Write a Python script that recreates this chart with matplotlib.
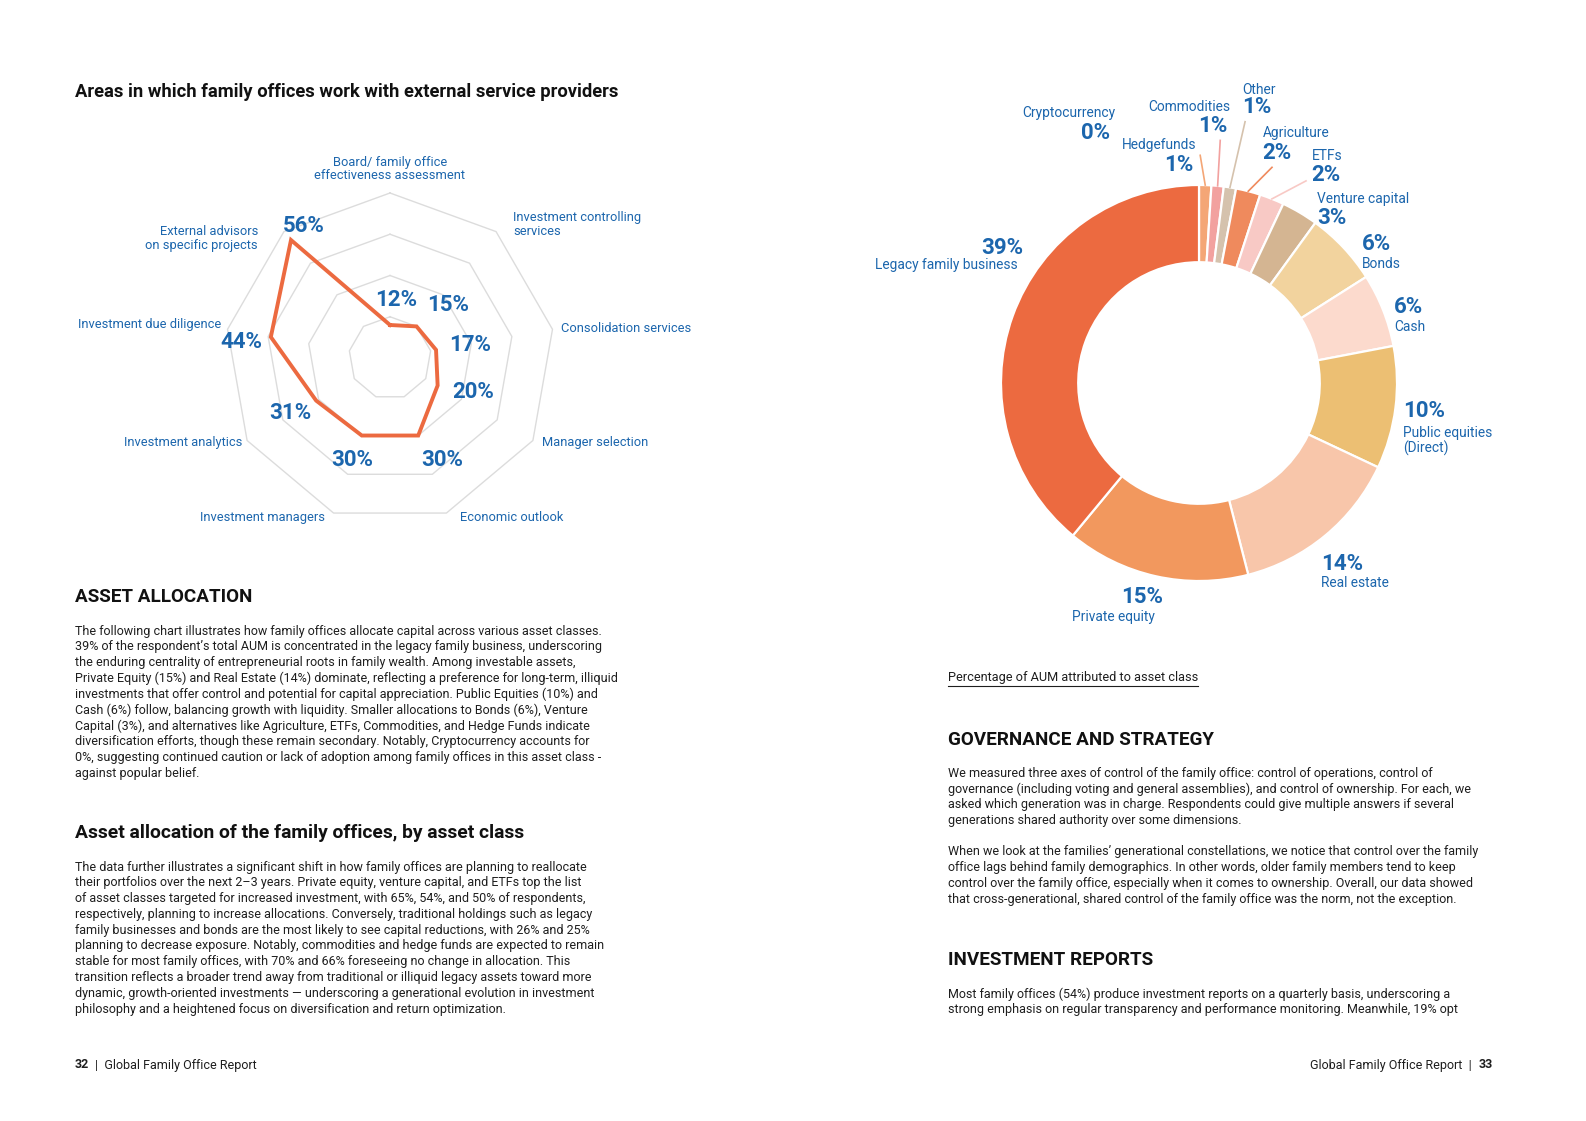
import numpy as np
import matplotlib
matplotlib.use("Agg")
import matplotlib.pyplot as plt
from matplotlib.lines import Line2D

plt.rcParams['font.family'] = ['Roboto', 'DejaVu Sans']

W, H = 1586, 1121
BLUE = '#1c66ad'
ORANGE = '#ec6a40'
GRID = '#dcdcdc'
INK = '#1e1e1e'
HEAD = '#111111'

# radar: share of family offices using external providers (clockwise from top)
radar_labels = ["Board/ family office\neffectiveness assessment",
                "Investment controlling\nservices",
                "Consolidation services",
                "Manager selection",
                "Economic outlook",
                "Investment managers",
                "Investment analytics",
                "Investment due diligence",
                "External advisors\non specific projects"]
radar_values = [12, 15, 17, 20, 30, 30, 31, 44, 56]
radar_rings = [15, 30, 45, 60]

# donut: percentage of AUM per asset class (clockwise from 12 o'clock)
asset_classes = ["Hedgefunds", "Commodities", "Other", "Agriculture", "ETFs",
                 "Venture capital", "Bonds", "Cash", "Public equities\n(Direct)",
                 "Real estate", "Private equity", "Legacy family business"]
asset_shares = [1, 1, 1, 2, 2, 3, 6, 6, 10, 14, 15, 39]
crypto_label = "Cryptocurrency"
crypto_share = 0

asset_colors = ['#f4a676', '#f2a19f', '#d5c2ad', '#ef8a5d', '#f8c9c5', '#d4b592',
                '#f2d39e', '#fcdacd', '#ecbf73', '#f8c6aa', '#f2985e', '#ec6a40']


def fx(x):
    return x / W


def fy(y):
    return 1 - y / H


def axes_px(fig, cx, cy, half):
    ax = fig.add_axes([fx(cx - half), fy(cy + half), 2 * half / W, 2 * half / H])
    ax.set_axis_off()
    return ax


def add_text(fig, x, y, s, size=9, weight='normal', color=INK, ha='left', va='center', **kw):
    return fig.text(fx(x), fy(y), s, fontsize=size, fontweight=weight, color=color,
                    ha=ha, va=va, **kw)


def add_paragraph(fig, x, y0, lines, step=15.8):
    for i, line in enumerate(lines):
        add_text(fig, x, y0 + i * step, line, size=9)


def draw_radar(fig):
    # center at (390, 358) px, ring 60 -> 165 px
    half = 200
    lim = half / 165 * 60
    ax = axes_px(fig, 390, 358, half)
    ax.set_xlim(-lim, lim)
    ax.set_ylim(-lim, lim)
    ax.set_aspect('equal')

    n = len(radar_values)
    ang = np.arange(n) * 2 * np.pi / n
    ang_c = np.append(ang, ang[0])
    for ring in radar_rings:
        ax.plot(ring * np.sin(ang_c), ring * np.cos(ang_c), color=GRID, lw=1.0, zorder=1)

    vals = np.array(radar_values + radar_values[:1], dtype=float)
    x = vals * np.sin(ang_c)
    y = vals * np.cos(ang_c)
    ax.plot(x, y, color=ORANGE, lw=2.8, solid_joinstyle='miter', zorder=3)

    # value labels, offsets in pixels from the data point
    val_off = [(6, 25), (32, 21), (34, 5), (36, -7), (24, -24),
               (-10, -24), (-26, -12), (-29, -5), (13, 14)]
    for v, a, (dx, dy) in zip(radar_values, ang, val_off):
        ax.annotate(f"{v}%", (v * np.sin(a), v * np.cos(a)), xytext=(dx, dy),
                    textcoords='offset pixels', ha='center', va='center',
                    fontsize=16, fontweight='bold', color=BLUE, annotation_clip=False)

    # axis labels, offsets from the outer vertex
    lab_off = [(0, 24, 'center'), (17, 7, 'left'), (9, 1, 'left'), (9, -2, 'left'),
               (14, -4, 'left'), (-9, -4, 'right'), (-5, -2, 'right'),
               (-6, 5, 'right'), (-26, -7, 'right')]
    top = radar_rings[-1]
    for lab, a, (dx, dy, ha) in zip(radar_labels, ang, lab_off):
        ax.annotate(lab, (top * np.sin(a), top * np.cos(a)), xytext=(dx, dy),
                    textcoords='offset pixels', ha=ha, va='center', multialignment=ha,
                    fontsize=9.3, color=BLUE, linespacing=1.05, annotation_clip=False)


def draw_donut(fig):
    # center at (1199, 383) px, outer radius 198 px
    half = 230
    R = 198
    ax = axes_px(fig, 1199, 383, half)
    ax.pie(asset_shares, colors=asset_colors, startangle=90, counterclock=False,
           radius=1.0, wedgeprops=dict(width=0.39, edgecolor='white', linewidth=1.6))
    lim = half / R
    ax.set_xlim(-lim, lim)
    ax.set_ylim(-lim, lim)
    ax.set_aspect('equal')

    # leader lines for the thin wedges: end point (angle deg clockwise from top, radius)
    leaders = {"Hedgefunds": (0.3, 1.15), "Commodities": (5.0, 1.23), "Other": (10.0, 1.34),
               "Agriculture": (18.7, 1.15), "ETFs": (27.9, 1.155)}
    cum = np.cumsum([0] + asset_shares) / np.sum(asset_shares) * 360
    for i, name in enumerate(asset_classes):
        if name in leaders:
            mid = np.deg2rad((cum[i] + cum[i + 1]) / 2)
            ea, er = leaders[name]
            ea = np.deg2rad(ea)
            ax.plot([np.sin(mid), er * np.sin(ea)], [np.cos(mid), er * np.cos(ea)],
                    color=asset_colors[i], lw=1.2, clip_on=False)

    # label positions in px: (value xy, name xy, ha)
    pos = {
        "Hedgefunds": ((1193, 165), (1196, 145), 'right'),
        "Commodities": ((1227, 126), (1230, 107), 'right'),
        "Other": ((1242, 107), (1242, 90), 'left'),
        "Agriculture": ((1262, 153), (1263, 133), 'left'),
        "ETFs": ((1311, 175), (1312, 156), 'left'),
        "Venture capital": ((1317, 218), (1317, 199), 'left'),
        "Bonds": ((1362, 244), (1362, 264), 'left'),
        "Cash": ((1394, 307), (1394, 327), 'left'),
        "Public equities\n(Direct)": ((1403, 411), (1403, 441), 'left'),
        "Real estate": ((1321, 564), (1321, 583), 'left'),
        "Private equity": ((1163, 597), (1155, 617), 'right'),
        "Legacy family business": ((1023, 248), (1018, 265), 'right'),
    }
    for name, share in zip(asset_classes, asset_shares):
        (vx, vy), (nx, ny), ha = pos[name]
        add_text(fig, vx, vy, f"{share}%", size=16, weight='bold', color=BLUE, ha=ha)
        add_text(fig, nx, ny, name, size=9.9, color=BLUE, ha=ha, multialignment=ha,
                 linespacing=1.0)
    add_text(fig, 1110, 133, f"{crypto_share}%", size=16, weight='bold', color=BLUE, ha='right')
    add_text(fig, 1115, 113, crypto_label, size=9.9, color=BLUE, ha='right')


para_asset = [
    "The following chart illustrates how family offices allocate capital across various asset classes.",
    "39% of the respondent’s total AUM is concentrated in the legacy family business, underscoring",
    "the enduring centrality of entrepreneurial roots in family wealth. Among investable assets,",
    "Private Equity (15%) and Real Estate (14%) dominate, reflecting a preference for long-term, illiquid",
    "investments that offer control and potential for capital appreciation. Public Equities (10%) and",
    "Cash (6%) follow, balancing growth with liquidity. Smaller allocations to Bonds (6%), Venture",
    "Capital (3%), and alternatives like Agriculture, ETFs, Commodities, and Hedge Funds indicate",
    "diversification efforts, though these remain secondary. Notably, Cryptocurrency accounts for",
    "0%, suggesting continued caution or lack of adoption among family offices in this asset class -",
    "against popular belief.",
]
para_class = [
    "The data further illustrates a significant shift in how family offices are planning to reallocate",
    "their portfolios over the next 2–3 years. Private equity, venture capital, and ETFs top the list",
    "of asset classes targeted for increased investment, with 65%, 54%, and 50% of respondents,",
    "respectively, planning to increase allocations. Conversely, traditional holdings such as legacy",
    "family businesses and bonds are the most likely to see capital reductions, with 26% and 25%",
    "planning to decrease exposure. Notably, commodities and hedge funds are expected to remain",
    "stable for most family offices, with 70% and 66% foreseeing no change in allocation. This",
    "transition reflects a broader trend away from traditional or illiquid legacy assets toward more",
    "dynamic, growth-oriented investments — underscoring a generational evolution in investment",
    "philosophy and a heightened focus on diversification and return optimization.",
]
para_gov1 = [
    "We measured three axes of control of the family office: control of operations, control of",
    "governance (including voting and general assemblies), and control of ownership. For each, we",
    "asked which generation was in charge. Respondents could give multiple answers if several",
    "generations shared authority over some dimensions.",
]
para_gov2 = [
    "When we look at the families’ generational constellations, we notice that control over the family",
    "office lags behind family demographics. In other words, older family members tend to keep",
    "control over the family office, especially when it comes to ownership. Overall, our data showed",
    "that cross-generational, shared control of the family office was the norm, not the exception.",
]
para_reports = [
    "Most family offices (54%) produce investment reports on a quarterly basis, underscoring a",
    "strong emphasis on regular transparency and performance monitoring. Meanwhile, 19% opt",
]


def main():
    fig = plt.figure(figsize=(W / 100, H / 100), dpi=100, facecolor='white')

    add_text(fig, 75, 92, "Areas in which family offices work with external service providers",
             size=13.2, weight='bold', color=HEAD)
    draw_radar(fig)
    draw_donut(fig)

    add_text(fig, 75, 597, "ASSET ALLOCATION", size=13.6, weight='bold', color=HEAD)
    add_paragraph(fig, 75, 631, para_asset)
    add_text(fig, 75, 833, "Asset allocation of the family offices, by asset class",
             size=13.9, weight='bold', color=HEAD)
    add_paragraph(fig, 75, 867, para_class)

    cap = add_text(fig, 948, 678, "Percentage of AUM attributed to asset class", size=9.2)
    fig.canvas.draw()
    bb = cap.get_window_extent(fig.canvas.get_renderer())
    fig.add_artist(Line2D([bb.x0 / W, bb.x1 / W], [fy(686), fy(686)],
                          transform=fig.transFigure, color=INK, lw=0.8))

    add_text(fig, 948, 740, "GOVERNANCE AND STRATEGY", size=13.6, weight='bold', color=HEAD)
    add_paragraph(fig, 948, 773, para_gov1)
    add_paragraph(fig, 948, 852, para_gov2)
    add_text(fig, 948, 960, "INVESTMENT REPORTS", size=13.6, weight='bold', color=HEAD)
    add_paragraph(fig, 948, 994, para_reports)

    add_text(fig, 75, 1065, "32", size=9, weight='bold')
    add_text(fig, 95, 1065, "|  Global Family Office Report", size=9)
    add_text(fig, 1472, 1065, "Global Family Office Report  |", size=9, ha='right')
    add_text(fig, 1479, 1065, "33", size=9, weight='bold')

    fig.savefig("out.png", dpi=100, facecolor='white')


if __name__ == "__main__":
    main()
